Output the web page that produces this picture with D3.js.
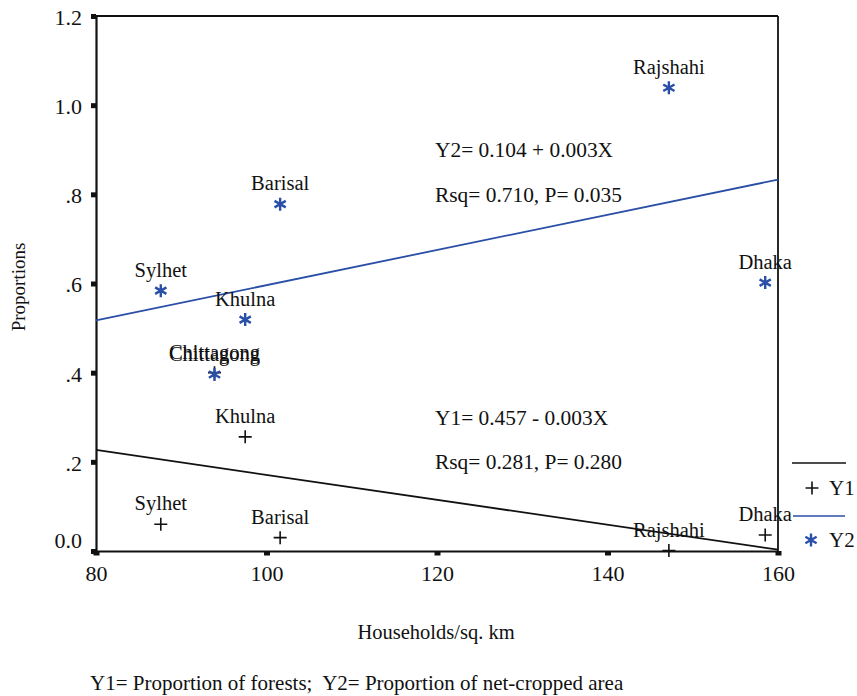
<!DOCTYPE html>
<html>
<head>
<meta charset="utf-8">
<script src="https://cdn.jsdelivr.net/npm/d3@7/dist/d3.min.js"></script>
<style>
  html, body { margin: 0; padding: 0; background: #fff; }
  svg { display: block; }
  text { font-family: "Liberation Serif", "DejaVu Serif", "Times New Roman", serif; fill: #111; }
</style>
</head>
<body>
<svg id="chart" width="857" height="696" font-family="Liberation Serif, DejaVu Serif, serif"></svg>
<script>
// Districts of Bangladesh: household density vs. land-use proportions
const districts = ["Sylhet", "Khulna", "Chittagong", "Barisal", "Rajshahi", "Dhaka"];
const householdsPerSqKm = [87.6, 97.5, 93.9, 101.6, 147.2, 158.5];
const forestShare = [0.060, 0.256, 0.400, 0.030, 0.001, 0.036];      // Y1
const croppedShare = [0.584, 0.519, 0.396, 0.778, 1.039, 0.602];     // Y2

const xTicks = [80, 100, 120, 140, 160];
const yTicks = [0, 0.2, 0.4, 0.6, 0.8, 1.0, 1.2];
const yTickLabels = ["0.0", ".2", ".4", ".6", ".8", "1.0", "1.2"];

const fitText = {
  y2: ["Y2= 0.104 + 0.003X", "Rsq= 0.710, P= 0.035"],
  y1: ["Y1= 0.457 - 0.003X", "Rsq= 0.281, P= 0.280"]
};

const BLUE = "#2a4fa6";
const SERIF = "Liberation Serif, DejaVu Serif, Times New Roman, serif";
const svg = d3.select("#chart");

const x = d3.scaleLinear().domain([80, 160]).range([96, 778]);
const y = d3.scaleLinear().domain([0, 1.2]).range([551, 16]);

// least-squares fit through the district points
function ols(xs, ys) {
  const mx = d3.mean(xs), my = d3.mean(ys);
  let sxy = 0, sxx = 0;
  xs.forEach((v, i) => { sxy += (v - mx) * (ys[i] - my); sxx += (v - mx) * (v - mx); });
  const b = sxy / sxx;
  return { a: my - b * mx, b };
}

// frame
const g = svg.append("g");
g.append("line").attr("x1", x(80)).attr("x2", x(160)).attr("y1", y(1.2)).attr("y2", y(1.2))
  .attr("stroke", "#111").attr("stroke-width", 1.8);
g.append("line").attr("x1", x(160)).attr("x2", x(160)).attr("y1", y(1.2)).attr("y2", y(0))
  .attr("stroke", "#111").attr("stroke-width", 1.8);

// y axis
const yAxis = d3.axisLeft(y).tickValues(yTicks).tickSize(0).tickPadding(14)
  .tickFormat((d, i) => yTickLabels[i]);
const ya = svg.append("g").attr("transform", `translate(${x(80)},0)`).call(yAxis);
ya.attr("font-family", SERIF);
ya.select(".domain").attr("stroke", "#111").attr("stroke-width", 2.2);
ya.selectAll(".tick text").attr("font-size", 22).attr("fill", "#111")
  .attr("dy", (d) => d === 0 ? "-0.15em" : "0.38em");
ya.selectAll(".tick").append("rect").attr("x", -5).attr("y", -2.5).attr("width", 5).attr("height", 5).attr("fill", "#111");

// x axis
const xAxis = d3.axisBottom(x).tickValues(xTicks).tickSize(0).tickPadding(14).tickFormat(d3.format("d"));
const xa = svg.append("g").attr("transform", `translate(0,${y(0)})`).call(xAxis);
xa.attr("font-family", SERIF);
xa.select(".domain").attr("stroke", "#111").attr("stroke-width", 2.2);
xa.selectAll(".tick text").attr("font-size", 22).attr("fill", "#111");
xa.selectAll(".tick").append("rect").attr("x", -3).attr("y", 0).attr("width", 6).attr("height", 4.5).attr("fill", "#111");

// regression lines
const fit1 = ols(householdsPerSqKm, forestShare);
const fit2 = ols(householdsPerSqKm, croppedShare);
const line = d3.line().x(d => x(d[0])).y(d => y(d[1]));
const span = x.domain();
svg.append("path").datum(span.map(v => [v, fit1.a + fit1.b * v]))
  .attr("d", line).attr("fill", "none").attr("stroke", "#111").attr("stroke-width", 1.8);
svg.append("path").datum(span.map(v => [v, fit2.a + fit2.b * v]))
  .attr("d", line).attr("fill", "none").attr("stroke", BLUE).attr("stroke-width", 1.8);

// marker shapes
const plusPath = (r) => `M${-r},0H${r}M0,${-r}V${r}`;
const starPath = (r) => {
  let p = "";
  [90, 30, 150].forEach(a => {
    const dx = r * Math.cos(a * Math.PI / 180), dy = r * Math.sin(a * Math.PI / 180);
    p += `M${-dx},${-dy}L${dx},${dy}`;
  });
  return p;
};

const pts = districts.map((name, i) => ({ name, hx: householdsPerSqKm[i], y1: forestShare[i], y2: croppedShare[i] }));

// Y1 markers and labels
const s1 = svg.append("g").selectAll("g").data(pts).join("g")
  .attr("transform", d => `translate(${x(d.hx)},${y(d.y1)})`);
s1.append("path").attr("d", plusPath(6.5)).attr("stroke", "#111").attr("stroke-width", 1.6).attr("fill", "none");
s1.append("text").attr("y", -21).attr("dy", "0.35em").attr("text-anchor", "middle")
  .attr("font-size", 20.5).text(d => d.name);

// Y2 markers and labels
const s2 = svg.append("g").selectAll("g").data(pts).join("g")
  .attr("transform", d => `translate(${x(d.hx)},${y(d.y2)})`);
s2.append("path").attr("d", starPath(6.5)).attr("stroke", BLUE).attr("stroke-width", 2.4).attr("fill", "none");
s2.append("text").attr("y", -21).attr("dy", "0.35em").attr("text-anchor", "middle")
  .attr("font-size", 20.5).text(d => d.name);

// fit annotations
const ann = [[fitText.y2[0], 150], [fitText.y2[1], 195], [fitText.y1[0], 418], [fitText.y1[1], 462]];
ann.forEach(([t, yy]) => {
  svg.append("text").attr("x", 435).attr("y", yy).attr("dy", "0.35em").attr("font-size", 21.4).text(t);
});

// legend
const lg = svg.append("g");
lg.append("line").attr("x1", 792).attr("x2", 846).attr("y1", 463).attr("y2", 463).attr("stroke", "#111").attr("stroke-width", 1.6);
lg.append("path").attr("transform", "translate(812,488)").attr("d", plusPath(6.5)).attr("stroke", "#111").attr("stroke-width", 1.6);
lg.append("text").attr("x", 829).attr("y", 488).attr("dy", "0.35em").attr("font-size", 21).text("Y1");
lg.append("line").attr("x1", 793).attr("x2", 845).attr("y1", 516).attr("y2", 516).attr("stroke", BLUE).attr("stroke-width", 1.6);
lg.append("path").attr("transform", "translate(811,540)").attr("d", starPath(6.5)).attr("stroke", BLUE).attr("stroke-width", 2.4);
lg.append("text").attr("x", 829).attr("y", 540).attr("dy", "0.35em").attr("font-size", 21).text("Y2");

// axis titles and note
svg.append("text").attr("transform", "translate(18,287) rotate(-90)").attr("text-anchor", "middle")
  .attr("dy", "0.35em").attr("font-size", 19).text("Proportions");
svg.append("text").attr("x", 436).attr("y", 632).attr("dy", "0.35em").attr("text-anchor", "middle")
  .attr("font-size", 20.5).text("Households/sq. km");
svg.append("text").attr("x", 90).attr("y", 683).attr("dy", "0.35em")
  .attr("font-size", 21).attr("xml:space", "preserve")
  .text("Y1= Proportion of forests;  Y2= Proportion of net-cropped area");
</script>
</body>
</html>
